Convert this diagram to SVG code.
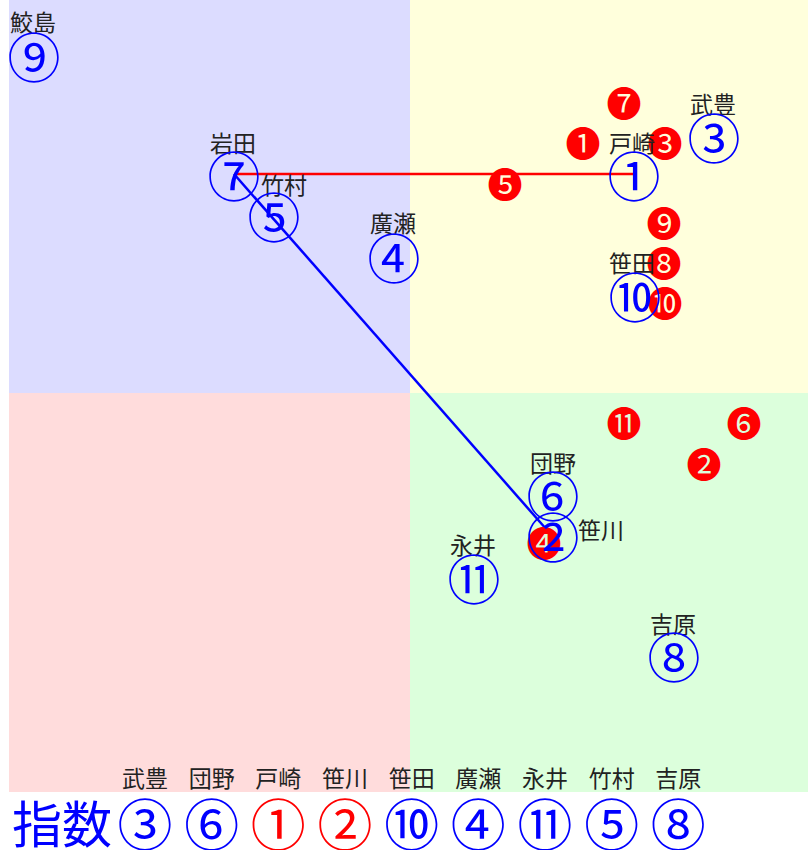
<svg xmlns="http://www.w3.org/2000/svg" width="808" height="850" viewBox="0 0 808 850">
<style>
.lbl{font-family:"Noto Sans CJK JP","Noto Sans CJK SC",sans-serif;font-size:23px;fill:#222;text-anchor:middle;dominant-baseline:central}
.cn{font-family:"Noto Sans CJK JP","Noto Sans CJK SC",sans-serif;font-size:53px;fill:#0000ff;text-anchor:middle;dominant-baseline:central}
.mk{font-family:"Noto Sans CJK JP","Noto Sans CJK SC",sans-serif;font-size:35px;fill:#ff0000;text-anchor:middle;dominant-baseline:central}
.lg{font-family:"Noto Sans CJK JP","Noto Sans CJK SC",sans-serif;font-size:55px;text-anchor:middle;dominant-baseline:central}
.lt{font-family:"Noto Sans CJK JP","Noto Sans CJK SC",sans-serif;font-size:50px;text-anchor:middle;dominant-baseline:central}
.b{fill:#0000ff}.r{fill:#ff0000}
</style>
<rect x="0" y="0" width="808" height="850" fill="#ffffff"/>
<g id="quadrants">
<rect x="9" y="0" width="401" height="393" fill="#dcdcff"/>
<rect x="410" y="0" width="398" height="393" fill="#ffffdc"/>
<rect x="9" y="393" width="401" height="399" fill="#ffdcdc"/>
<rect x="410" y="393" width="398" height="399" fill="#dcffdc"/>
</g>
<g id="connectors" fill="none" stroke-width="2.5">
<line x1="234" y1="174" x2="634" y2="174" stroke="#ff0000"/>
<line x1="234" y1="174" x2="547" y2="530" stroke="#0000ff"/>
</g>
<g id="markers">
<text class="mk" x="624" y="101">❼</text>
<text class="mk" x="583" y="141">❶</text>
<text class="mk" x="665" y="141">❸</text>
<text class="mk" x="505" y="182">❺</text>
<text class="mk" x="664" y="221">❾</text>
<text class="mk" x="664" y="261">❽</text>
<text class="mk" x="665" y="301">❿</text>
<text class="mk" x="624" y="421">⓫</text>
<text class="mk" x="744" y="421">❻</text>
<text class="mk" x="704" y="462">❷</text>
<text class="mk" x="544" y="541">❹</text>
</g>
<g id="node-sameshima"><text class="lbl" x="33" y="21">鮫島</text><text class="cn" x="34" y="55">⑨</text></g>
<g id="node-iwata"><text class="lbl" x="233" y="142">岩田</text><text class="cn" x="234" y="174">⑦</text></g>
<g id="node-takemura"><text class="lbl" x="284" y="184">竹村</text><text class="cn" x="274" y="215">⑤</text></g>
<g id="node-hirose"><text class="lbl" x="393" y="222">廣瀬</text><text class="cn" x="394" y="256">④</text></g>
<g id="node-tosaki"><text class="lbl" x="632" y="142">戸崎</text><text class="cn" x="634" y="174">①</text></g>
<g id="node-taketoyo"><text class="lbl" x="713" y="103">武豊</text><text class="cn" x="714" y="136">③</text></g>
<g id="node-sasada"><text class="lbl" x="632" y="262">笹田</text><text class="cn" x="635" y="295">⑩</text></g>
<g id="node-danno"><text class="lbl" x="553" y="462">団野</text><text class="cn" x="553" y="494">⑥</text></g>
<g id="node-sasagawa"><text class="lbl" x="601" y="529">笹川</text><text class="cn" x="553" y="535">②</text></g>
<g id="node-nagai"><text class="lbl" x="473" y="544">永井</text><text class="cn" x="474" y="577">⑪</text></g>
<g id="node-yoshihara"><text class="lbl" x="673" y="623">吉原</text><text class="cn" x="674" y="655">⑧</text></g>
<g id="legend">
<text class="lbl" x="145" y="777">武豊</text>
<text class="lbl" x="211.7" y="777">団野</text>
<text class="lbl" x="278.3" y="777">戸崎</text>
<text class="lbl" x="345" y="777">笹川</text>
<text class="lbl" x="411.7" y="777">笹田</text>
<text class="lbl" x="478.3" y="777">廣瀬</text>
<text class="lbl" x="545" y="777">永井</text>
<text class="lbl" x="611.7" y="777">竹村</text>
<text class="lbl" x="678.3" y="777">吉原</text>
<text class="lt b" x="62" y="821">指数</text>
<text class="lg b" x="145" y="821">③</text>
<text class="lg b" x="211.7" y="821">⑥</text>
<text class="lg r" x="278.3" y="821">①</text>
<text class="lg r" x="345" y="821">②</text>
<text class="lg b" x="411.7" y="821">⑩</text>
<text class="lg b" x="478.3" y="821">④</text>
<text class="lg b" x="545" y="821">⑪</text>
<text class="lg b" x="611.7" y="821">⑤</text>
<text class="lg b" x="678.3" y="821">⑧</text>
</g>
</svg>
